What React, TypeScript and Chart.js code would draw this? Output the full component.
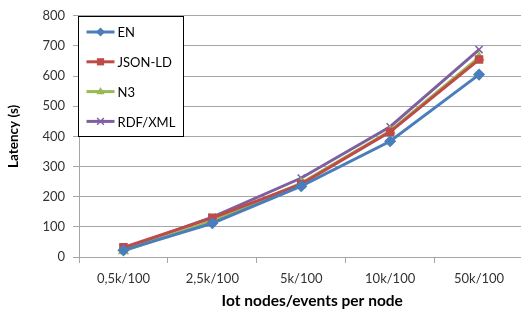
import React, { useEffect, useRef } from "react";
import { Chart, registerables } from "chart.js";

Chart.register(...registerables);

const categories = ["0,5k/100", "2,5k/100", "5k/100", "10k/100", "50k/100"];
const seriesNames = ["EN", "JSON-LD", "N3", "RDF/XML"];
const enValues = [22, 112, 235, 384, 605];
const jsonLdValues = [32, 130, 242, 415, 655];
const n3Values = [20, 120, 245, 418, 662];
const rdfXmlValues = [27, 132, 262, 432, 688];
const seriesColors = ["#4A7EBB", "#BE4B48", "#98B954", "#7D60A0"];
const pointStyles = ["rectRot", "rect", "triangle", "crossRot"];
const yTicks = [0, 100, 200, 300, 400, 500, 600, 700, 800];
const xTitle = "Iot nodes/events per node";
const yTitle = "Latency (s)";

const FONT = "Lato, 'Open Sans', sans-serif";

function drawMarker(ctx: CanvasRenderingContext2D, style: string, x: number, y: number, r: number, color: string) {
  ctx.save();
  ctx.fillStyle = color;
  ctx.strokeStyle = color;
  ctx.lineWidth = 1.5;
  ctx.beginPath();
  if (style === "rectRot") {
    ctx.moveTo(x, y - r);
    ctx.lineTo(x + r, y);
    ctx.lineTo(x, y + r);
    ctx.lineTo(x - r, y);
    ctx.closePath();
    ctx.fill();
  } else if (style === "rect") {
    const s = r * 0.8;
    ctx.rect(x - s, y - s, 2 * s, 2 * s);
    ctx.fill();
  } else if (style === "triangle") {
    ctx.moveTo(x, y - r);
    ctx.lineTo(x + r * 0.9, y + r * 0.6);
    ctx.lineTo(x - r * 0.9, y + r * 0.6);
    ctx.closePath();
    ctx.fill();
  } else {
    const s = r * 0.75;
    ctx.moveTo(x - s, y - s);
    ctx.lineTo(x + s, y + s);
    ctx.moveTo(x + s, y - s);
    ctx.lineTo(x - s, y + s);
    ctx.stroke();
  }
  ctx.restore();
}

const boxLegend = {
  id: "boxLegend",
  afterDatasetsDraw(chart: any) {
    const ctx = chart.ctx;
    const ca = chart.chartArea;
    const x0 = Math.round(ca.left) - 0.5;
    const y0 = Math.round(ca.top) + 0.5;
    const w = 105;
    const h = 120;
    ctx.save();
    ctx.fillStyle = "#ffffff";
    ctx.fillRect(x0, y0, w, h);
    ctx.strokeStyle = "#000000";
    ctx.lineWidth = 1;
    ctx.strokeRect(x0, y0, w, h);
    chart.data.datasets.forEach((ds: any, i: number) => {
      const cy = y0 + 15.5 + i * 29.8;
      const lx1 = x0 + 8;
      const lx2 = x0 + 36;
      ctx.strokeStyle = ds.borderColor;
      ctx.lineWidth = 3;
      ctx.beginPath();
      ctx.moveTo(lx1, cy);
      ctx.lineTo(lx2, cy);
      ctx.stroke();
      drawMarker(ctx, ds.pointStyle, (lx1 + lx2) / 2, cy, 4.5, ds.borderColor);
      ctx.fillStyle = "#000000";
      ctx.font = `13px ${FONT}`;
      ctx.textBaseline = "middle";
      ctx.textAlign = "left";
      ctx.fillText(ds.label, lx2 + 3, cy + 1);
    });
    // x-axis title
    ctx.fillStyle = "#000000";
    ctx.font = `bold 15.5px ${FONT}`;
    ctx.textAlign = "center";
    ctx.textBaseline = "alphabetic";
    ctx.fillText(xTitle, (ca.left + ca.right) / 2 + 11, 306);
    ctx.restore();
  },
};

export default function App() {
  const canvasRef = useRef<HTMLCanvasElement | null>(null);

  useEffect(() => {
    if (!canvasRef.current) return;
    const allValues = [enValues, jsonLdValues, n3Values, rdfXmlValues];
    const chart = new Chart(canvasRef.current, {
      type: "line",
      data: {
        labels: categories,
        datasets: seriesNames.map((name, i) => ({
          label: name,
          data: allValues[i],
          borderColor: seriesColors[i],
          backgroundColor: seriesColors[i],
          pointBorderColor: seriesColors[i],
          pointBackgroundColor: seriesColors[i],
          pointStyle: pointStyles[i] as any,
          pointRadius: 5,
          pointBorderWidth: 1.5,
          borderWidth: 3,
          tension: 0,
        })),
      },
      options: {
        animation: false,
        responsive: false,
        maintainAspectRatio: false,
        layout: { padding: { left: 0, right: 3, top: 14, bottom: 0 } },
        plugins: {
          legend: { display: false },
          tooltip: { enabled: false },
        },
        scales: {
          x: {
            offset: true,
            grid: {
              offset: true,
              drawOnChartArea: false,
              drawTicks: true,
              tickLength: 6,
              color: "#a6a6a6",
            },
            border: { color: "#a6a6a6", width: 1 },
            ticks: {
              color: "#333333",
              font: { family: FONT, size: 13 },
              padding: 8,
              maxRotation: 0,
            },
            title: { display: false, text: xTitle },
            afterFit(scale: any) {
              scale.height = 55;
            },
          },
          y: {
            min: 0,
            max: 800,
            afterBuildTicks(scale: any) {
              scale.ticks = yTicks.map((v) => ({ value: v }));
            },
            grid: {
              color: "#a6a6a6",
              tickLength: 6,
            },
            border: { color: "#a6a6a6", width: 1 },
            ticks: {
              color: "#333333",
              font: { family: FONT, size: 13 },
              padding: 8,
            },
            title: {
              display: true,
              text: yTitle,
              color: "#000000",
              font: { family: FONT, size: 13.5, weight: "bold" },
              padding: { top: 6, bottom: 4 },
            },
            afterFit(scale: any) {
              scale.width = 79;
            },
          },
        },
      },
      plugins: [boxLegend],
    });
    return () => chart.destroy();
  }, []);

  return (
    <div style={{ position: "absolute", left: 0, top: 0, width: 521, height: 312, overflow: "hidden", background: "#fff" }}>
      <canvas ref={canvasRef} width={530} height={312} style={{ display: "block", width: 530, height: 312 }} />
    </div>
  );
}
